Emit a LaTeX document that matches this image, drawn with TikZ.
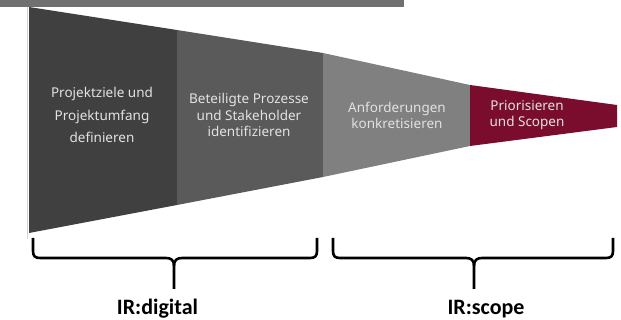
\documentclass[tikz,border=0pt]{standalone}
\usepackage{fontspec}
\setmainfont{Noto Sans}
\newfontfamily\labfont{Carlito}
\definecolor{barc}{HTML}{707070}
\definecolor{segA}{HTML}{404040}
\definecolor{segB}{HTML}{5A5A5A}
\definecolor{segC}{HTML}{808080}
\definecolor{segD}{HTML}{7A0C2E}
\definecolor{txtc}{HTML}{E2E2E2}
\tikzset{
  segtext/.style={text=txtc, align=center, font=\fontsize{13.5}{16.5}\selectfont, inner sep=0pt},
  brc/.style={line width=2.6pt, line join=round, line cap=butt},
  lab/.style={font=\labfont\bfseries\fontsize{22}{25}\selectfont, inner sep=0pt, anchor=base}
}
\begin{document}
\begin{tikzpicture}[x=1pt,y=-1pt]
\useasboundingbox (0,0) rectangle (621,320);
% top bar
\fill[barc] (0,0) rectangle (404,7);
% funnel segments
\coordinate (t0) at (29,7);   \coordinate (b0) at (29,233);
\coordinate (t1) at (177,30); \coordinate (b1) at (177,205);
\coordinate (t2) at (323,53); \coordinate (b2) at (323,177);
\coordinate (t3) at (470,85); \coordinate (b3) at (470,146);
\coordinate (t4) at (617,105);\coordinate (b4) at (617,127);
\fill[segA] (t0) -- (t1) -- (b1) -- (b0) -- cycle;
\fill[segB] (t1) -- (t2) -- (b2) -- (b1) -- cycle;
\fill[segC] (t2) -- (t3) -- (b3) -- (b2) -- cycle;
\fill[segD] (t3) -- (t4) -- (b4) -- (b3) -- cycle;
\draw[gray!35, line width=0.8pt] (27,7) -- (27,239);
% texts
\node[segtext, font=\fontsize{13.5}{22.5}\selectfont] (s1) at (102,115) {Projektziele und\\Projektumfang\\definieren};
\node[segtext] (s2) at (249,115) {Beteiligte Prozesse\\und Stakeholder\\identifizieren};
\node[segtext] (s3) at (397,115.5) {Anforderungen\\konkretisieren};
\node[segtext] (s4) at (527,115) {Priorisieren\\und Scopen};
% braces
\draw[brc] (33,238) -- (33,251) .. controls (33,256) and (35,258) .. (40,258)
  -- (166,258) .. controls (171,258) and (174,260) .. (174,266) -- (174,289);
\draw[brc] (174,266) .. controls (174,260) and (177,258) .. (182,258)
  -- (310,258) .. controls (315,258) and (317,256) .. (317,251) -- (317,238);
\draw[brc] (333,238) -- (333,251) .. controls (333,256) and (335,258) .. (340,258)
  -- (466,258) .. controls (471,258) and (474,260) .. (474,266) -- (474,289);
\draw[brc] (474,266) .. controls (474,260) and (477,258) .. (482,258)
  -- (606,258) .. controls (611,258) and (613,256) .. (613,251) -- (613,238);
% labels
\node[lab] (l1) at (157.5,314.5) {IR:digital};
\node[lab] (l2) at (486,314.5) {IR:scope};
\end{tikzpicture}
\end{document}
